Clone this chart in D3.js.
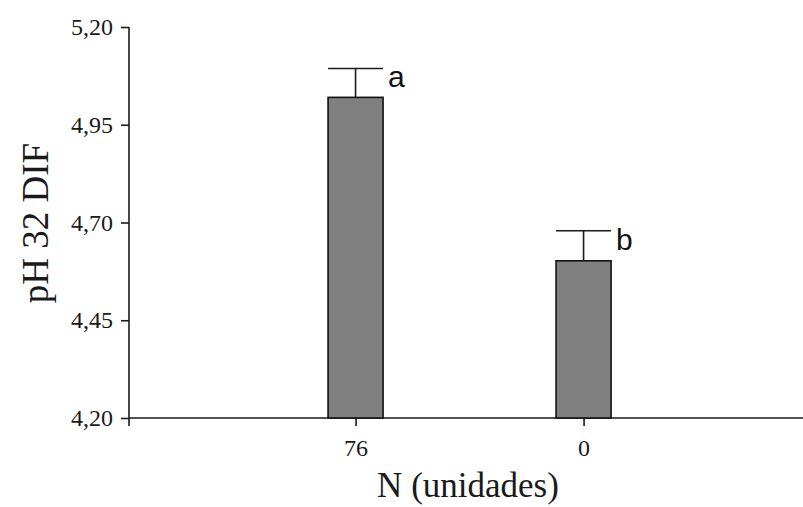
<!DOCTYPE html>
<html>
<head>
<meta charset="utf-8">
<script src="https://cdn.jsdelivr.net/npm/d3@7"></script>
<style>
  html, body { margin: 0; padding: 0; background: #fff; }
  svg { display: block; }
</style>
</head>
<body>
<svg id="chart" width="803" height="507"></svg>
<script>
// pH at 32 DIF by N level
const categories = ["76", "0"];
const means = [5.020, 4.602];
const errors = [0.074, 0.077];
const groupLetters = ["a", "b"];
const yTicks = [4.20, 4.45, 4.70, 4.95, 5.20];

const svg = d3.select("#chart");
const axisLeft = 129, axisRight = 803, axisTop = 27, axisBottom = 418;

const x = d3.scalePoint().domain(categories).range([axisLeft, axisRight])
  .padding(0.978).align(0.508);
const y = d3.scaleLinear().domain([4.20, 5.20]).range([axisBottom, axisTop]);
const barWidth = 55;

const serif = "'Liberation Serif', 'Times New Roman', serif";
const fmt = v => d3.format(".2f")(v).replace(".", ",");

// y axis
const yAxis = svg.append("g")
  .attr("transform", `translate(${axisLeft},0)`)
  .call(d3.axisLeft(y).tickValues(yTicks).tickFormat(fmt).tickSize(8).tickSizeOuter(0));
yAxis.select(".domain").attr("d", `M0,${axisTop}V${axisBottom + 8}`)
  .attr("stroke", "#1a1a1a").attr("stroke-width", 1.6);
yAxis.selectAll(".tick line").attr("stroke", "#1a1a1a").attr("stroke-width", 1.6);
yAxis.selectAll(".tick text")
  .attr("font-family", serif).attr("font-size", 24).attr("fill", "#1a1a1a")
  .attr("x", -16);

// x axis
const xAxis = svg.append("g")
  .attr("transform", `translate(0,${axisBottom})`)
  .call(d3.axisBottom(x).tickSize(8).tickSizeOuter(0));
xAxis.select(".domain").attr("d", `M${axisLeft},0H${axisRight}`)
  .attr("stroke", "#1a1a1a").attr("stroke-width", 1.6);
xAxis.selectAll(".tick line").attr("stroke", "#1a1a1a").attr("stroke-width", 1.6);
xAxis.selectAll(".tick text")
  .attr("font-family", serif).attr("font-size", 24).attr("fill", "#1a1a1a")
  .attr("dy", 0).attr("y", 38);

// bars
svg.append("g").selectAll("rect")
  .data(categories)
  .join("rect")
  .attr("x", (d) => x(d) - barWidth / 2)
  .attr("y", (d, i) => y(means[i]))
  .attr("width", barWidth)
  .attr("height", (d, i) => y(4.20) - y(means[i]))
  .attr("fill", "#808080")
  .attr("stroke", "#111")
  .attr("stroke-width", 1.6);

// error bars (upper only)
const eb = svg.append("g").attr("stroke", "#1a1a1a").attr("stroke-width", 1.6);
categories.forEach((c, i) => {
  const cx = x(c);
  eb.append("line")
    .attr("x1", cx).attr("x2", cx)
    .attr("y1", y(means[i])).attr("y2", y(means[i] + errors[i]));
  eb.append("line")
    .attr("x1", cx - barWidth / 2).attr("x2", cx + barWidth / 2)
    .attr("y1", y(means[i] + errors[i])).attr("y2", y(means[i] + errors[i]));
});

// significance letters
svg.append("g").selectAll("text")
  .data(categories)
  .join("text")
  .attr("x", (d) => x(d) + barWidth / 2 + 5)
  .attr("y", (d, i) => y(means[i] + errors[i]) + 19)
  .attr("font-family", "'Liberation Sans', Arial, sans-serif")
  .attr("font-size", 30)
  .attr("fill", "#111")
  .text((d, i) => groupLetters[i]);

// axis titles
svg.append("text")
  .attr("x", 468).attr("y", 497)
  .attr("text-anchor", "middle")
  .attr("font-family", serif).attr("font-size", 35).attr("fill", "#1a1a1a")
  .text("N (unidades)");

svg.append("text")
  .attr("transform", "translate(48,223) rotate(-90)")
  .attr("text-anchor", "middle")
  .attr("font-family", serif).attr("font-size", 37).attr("fill", "#1a1a1a")
  .text("pH 32 DIF");
</script>
</body>
</html>
